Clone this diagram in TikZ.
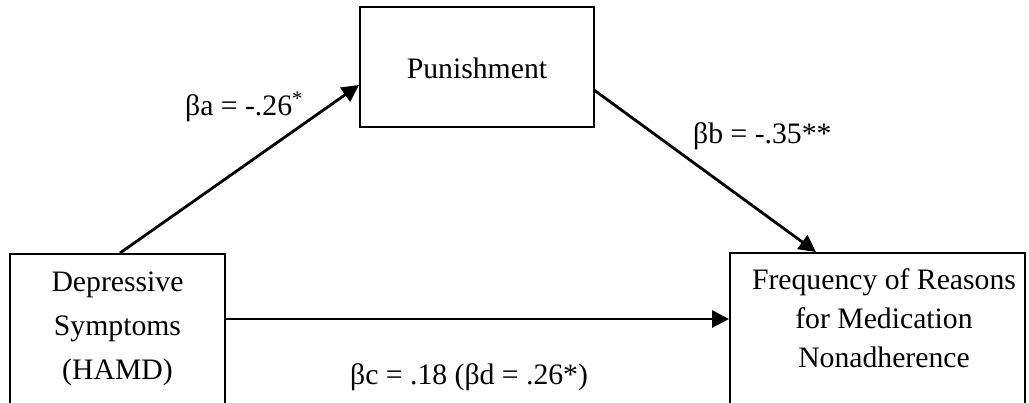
\documentclass[tikz,border=0pt]{standalone}
\usepackage{fontspec}
\setmainfont{Liberation Serif}
\usetikzlibrary{arrows.meta}
\begin{document}
\begin{tikzpicture}[x=1pt,y=-1pt,
  box/.style={draw, line width=2pt, inner sep=0pt},
  lbl/.style={font=\fontsize{29.7}{42}\selectfont, inner sep=0pt, align=center},
  conn/.style={line width=2.8pt, -{Triangle[length=17pt,width=17pt]}}]
\useasboundingbox (0,0) rectangle (1029,402);
\clip (0,0) rectangle (1029,402);
\node[box, minimum width=234pt, minimum height=120pt] (pun) at (477,67) {};
\node[lbl, anchor=base] (puntext) at (477,78) {Punishment};
\node[box, minimum width=215pt, minimum height=180pt] (dep) at (117.5,344) {};
\node[lbl, font=\fontsize{29.7}{44}\selectfont, anchor=north] (deptext) at (117.5,272) {Depressive\\Symptoms\\(HAMD)};
\node[box, minimum width=295pt, minimum height=180pt] (freq) at (877.5,343) {};
\node[lbl, font=\fontsize{29.7}{39}\selectfont, anchor=north] (freqtext) at (884,268) {Frequency of Reasons\\for Medication\\Nonadherence};
\coordinate (astart) at (120,253);
\coordinate (aend) at (359,85);
\draw[conn] (astart) -- (aend);
\coordinate (bstart) at (594,90);
\coordinate (bend) at (816,252);
\draw[conn] (bstart) -- (bend);
\draw[conn] (dep.east |- 0,319) -- (freq.west |- 0,319);
\node[lbl, anchor=base west] (la) at (185,115) {βa = -.26\textsuperscript{*}};
\node[lbl, anchor=base west] (lb) at (693,143) {βb = -.35**};
\node[lbl, anchor=base west] (lc) at (350,384) {βc = .18 (βd = .26*)};
\end{tikzpicture}
\end{document}
